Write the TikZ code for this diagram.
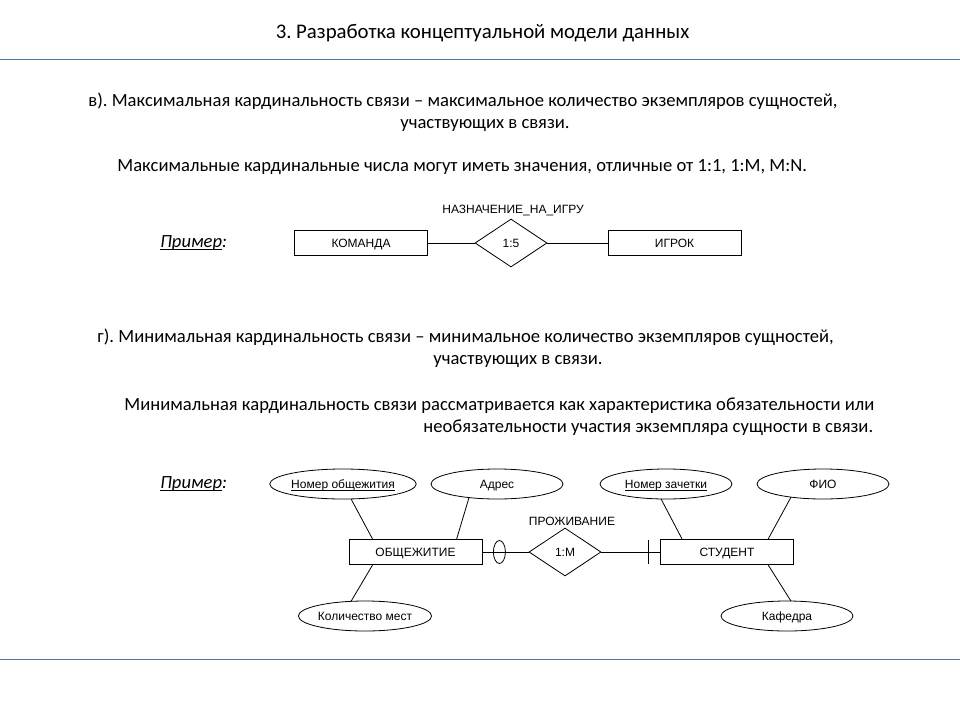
\documentclass[tikz,border=0pt]{standalone}
\usepackage{fontspec}
\setmainfont{Carlito}
\newfontfamily\diag{Liberation Sans}
\usetikzlibrary{shapes.geometric,calc}
\definecolor{rulecol}{RGB}{80,118,168}
\newcommand\myul[2]{\setbox0\hbox{#2}\leavevmode\rlap{\vrule height -#1 depth \dimexpr#1+0.9pt\relax width \wd0}\box0}
\frenchspacing
\begin{document}
\begin{tikzpicture}[x=1pt,y=-1pt,
  txt/.style={font=\fontsize{18.6}{22}\selectfont, inner sep=0, anchor=west, text height=13pt, text depth=4pt},
  ttl/.style={font=\fontsize{20.8}{24}\selectfont, inner sep=0, text height=14.5pt, text depth=4.5pt},
  dfont/.style={font=\diag\fontsize{12}{14}\selectfont, text height=8.6pt, text depth=0.4pt},
  ent/.style={draw, dfont, minimum width=133, minimum height=25, inner sep=0},
  rel/.style={diamond, draw, dfont, minimum width=72, minimum height=48, inner sep=0},
  attr/.style={ellipse, draw, dfont, minimum width=132, minimum height=30, inner sep=0},
  lbl/.style={dfont, inner sep=0},
  optmark/.style={ellipse, draw, minimum width=12, minimum height=23, inner sep=0},
  conn/.style={line width=0.8pt},
  line width=0.8pt]
\useasboundingbox (0,0) rectangle (960,720);
\fill[white] (0,0) rectangle (960,720);
% rules
\draw[rulecol, line width=1.8pt] (0,59.5) -- (960,59.5);
\draw[rulecol, line width=1.8pt] (0,659.5) -- (960,659.5);
% title
\node[ttl] (title) at (482.5,33) {3. Разработка концептуальной модели данных};
% section v
\node[txt] (v1) at (88,102) {в). Максимальная кардинальность связи – максимальное количество экземпляров сущностей,};
\node[txt] (v2) at (400,124) {участвующих в связи.};
\node[txt] (v3) at (117,167) {Максимальные кардинальные числа могут иметь значения, отличные от 1:1, 1:M, M:N.};
\node[txt, font=\fontsize{18.6}{22}\selectfont\itshape] (ex1) at (160,243) {\myul{1.9pt}{Пример}:};
% top diagram
\node[ent] (kom) at (361,243) {КОМАНДА};
\node[rel] (d1) at (511,243) {1:5};
\node[ent] (igr) at (674.5,243) {ИГРОК};
\node[lbl] (d1l) at (513,209) {НАЗНАЧЕНИЕ\_НА\_ИГРУ};
\draw[conn] (kom) -- (d1);
\draw[conn] (d1) -- (igr);
% section g
\node[txt] (g1) at (97,338) {г). Минимальная кардинальность связи – минимальное количество экземпляров сущностей,};
\node[txt] (g2) at (433,360) {участвующих в связи.};
\node[txt] (g3) at (124,406) {Минимальная кардинальность связи рассматривается как характеристика обязательности или};
\node[txt] (g4) at (423,428) {необязательности участия экземпляра сущности в связи.};
\node[txt, font=\fontsize{18.6}{22}\selectfont\itshape] (ex2) at (160,484) {\myul{1.9pt}{Пример}:};
% bottom diagram
\node[ent] (obs) at (415.5,552) {ОБЩЕЖИТИЕ};
\node[rel] (d2) at (565,552) {1:M};
\node[ent] (stu) at (727,552) {СТУДЕНТ};
\node[lbl] (d2l) at (572,521) {ПРОЖИВАНИЕ};
\node[attr] (e1) at (343,484) {\myul{1.4pt}{Номер общежития}};
\node[attr] (e2) at (497,484) {Адрес};
\node[attr] (e3) at (666,484) {\myul{1.4pt}{Номер зачетки}};
\node[attr] (e4) at (823,484) {ФИО};
\node[attr] (e5) at (365,616) {Количество мест};
\node[attr] (e6) at (787,616) {Кафедра};
\draw[conn] (obs) -- (d2);
\draw[conn] (d2) -- (stu);
\node[optmark] (om) at ($(obs.east)+(17,0)$) {};
\coordinate (bar) at ($(stu.west)+(-12,0)$);
\draw[conn] ($(bar)+(0,-12)$) -- ($(bar)+(0,12)$);
% attribute connectors
\draw[conn] (e1) -- ($(obs.north west)+(24,0)$);
\draw[conn] ($(e2.center)+(-28,13.6)$) -- ($(obs.north west)+(108,0)$);
\draw[conn] ($(e3.center)+(-5,14.9)$) -- ($(stu.north west)+(22,0)$);
\draw[conn] ($(e4.center)+(-32,13.1)$) -- ($(stu.north west)+(108,0)$);
\draw[conn] ($(e5.center)+(-14,-14.6)$) -- ($(obs.south west)+(24,0)$);
\draw[conn] ($(e6.center)+(4,-14.9)$) -- ($(stu.south west)+(108,0)$);
\end{tikzpicture}
\end{document}
